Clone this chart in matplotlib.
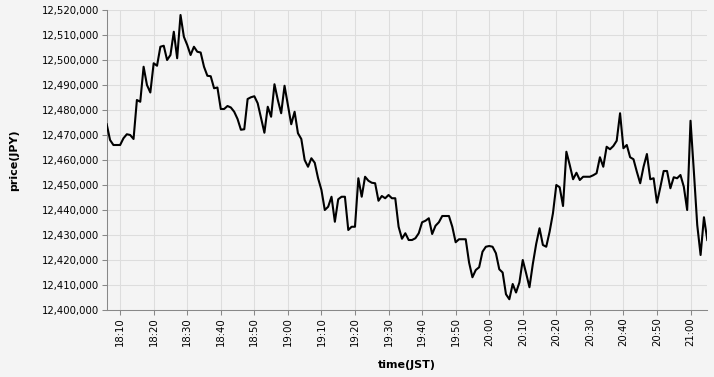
import pandas as pd
import matplotlib
matplotlib.use('Agg')
import matplotlib.pyplot as plt
import matplotlib.dates as mdates
from matplotlib.ticker import FuncFormatter, MultipleLocator

# per-minute price readings (JPY), 18:06 -> 21:05 JST
start_time = '2021-01-01 18:06'
prices = [
    12474300, 12468000, 12466000, 12466000, 12466000, 12468700, 12470300, 12470000, 12468400, 12484000,
    12483300, 12497300, 12490000, 12487000, 12498700, 12497700, 12505300, 12505700, 12500000, 12502000,
    12511300, 12500700, 12518000, 12509300, 12506000, 12502000, 12505300, 12503300, 12503000, 12497300,
    12493700, 12493500, 12488700, 12489000, 12480400, 12480400, 12481600, 12481000, 12479300, 12476400,
    12472100, 12472300, 12484400, 12485100, 12485500, 12482700, 12476700, 12470900, 12481300, 12477300,
    12490300, 12484000, 12478700, 12489700, 12482000, 12474300, 12479300, 12470700, 12468400, 12460000,
    12457300, 12460700, 12458900, 12452700, 12448000, 12440000, 12441300, 12445300, 12435300, 12444300,
    12445300, 12445300, 12432000, 12433300, 12433300, 12452700, 12445300, 12453300, 12451700, 12450900,
    12450700, 12443700, 12445600, 12444700, 12446000, 12444700, 12444700, 12433300, 12428500, 12430700,
    12428000, 12428000, 12428700, 12430700, 12435100, 12435700, 12436700, 12430400, 12433700, 12435100,
    12437600, 12437600, 12437600, 12433300, 12427100, 12428300, 12428300, 12428300, 12419000, 12413100,
    12416000, 12417100, 12423300, 12425300, 12425600, 12425300, 12422700, 12416300, 12415000, 12406300,
    12404300, 12410400, 12407000, 12411000, 12420000, 12414700, 12409100, 12418400, 12426400, 12432700,
    12426000, 12425300, 12431300, 12438700, 12450000, 12449100, 12441600, 12463300, 12458000, 12452300,
    12454900, 12452000, 12453300, 12453300, 12453300, 12453900, 12454700, 12461100, 12457300, 12465300,
    12464300, 12465600, 12467700, 12478700, 12464700, 12466000, 12461100, 12460300, 12455300, 12450700,
    12457300, 12462400, 12452300, 12452700, 12442900, 12449100, 12455600, 12455600, 12448700, 12453100,
    12452700, 12454000, 12449300, 12440000, 12475700, 12455300, 12434000, 12422000, 12437100, 12428000,
]
times = pd.date_range(start_time, periods=len(prices), freq='min')

bg = '#f4f4f4'
fig = plt.figure(figsize=(7.14, 3.77), dpi=100, facecolor=bg)
ax = fig.add_axes([106.7 / 714, 1 - 310 / 377, 600.6 / 714, 300 / 377], facecolor=bg)

ax.plot(times, prices, color='black', linewidth=1.5, zorder=3)

ax.set_xlim(times[0], times[-1])
ax.set_ylim(12400000, 12520000)

ax.yaxis.set_major_locator(MultipleLocator(10000))
ax.yaxis.set_major_formatter(FuncFormatter(lambda v, p: f'{int(v):,}'))
ax.xaxis.set_major_locator(mdates.MinuteLocator(byminute=range(0, 60, 10)))
ax.xaxis.set_major_formatter(mdates.DateFormatter('%H:%M'))

ax.grid(True, color='#dddddd', linewidth=0.75, zorder=0)
ax.set_axisbelow(True)

for side in ['top', 'right']:
    ax.spines[side].set_visible(False)
for side in ['left', 'bottom']:
    ax.spines[side].set_color('#888888')
    ax.spines[side].set_linewidth(0.75)

ax.tick_params(axis='both', colors='#888888', length=3.6, width=0.75, pad=1.5,
               labelsize=7.3, labelcolor='black')
ax.tick_params(axis='x', labelrotation=90)

ax.set_xlabel('time(JST)', fontsize=8, fontweight='bold')
ax.set_ylabel('price(JPY)', fontsize=8, fontweight='bold')
ax.xaxis.set_label_coords(0.5, -0.167)
ax.yaxis.set_label_coords(-0.145, 0.5)

plt.savefig('out.png', dpi=100, facecolor=bg)
